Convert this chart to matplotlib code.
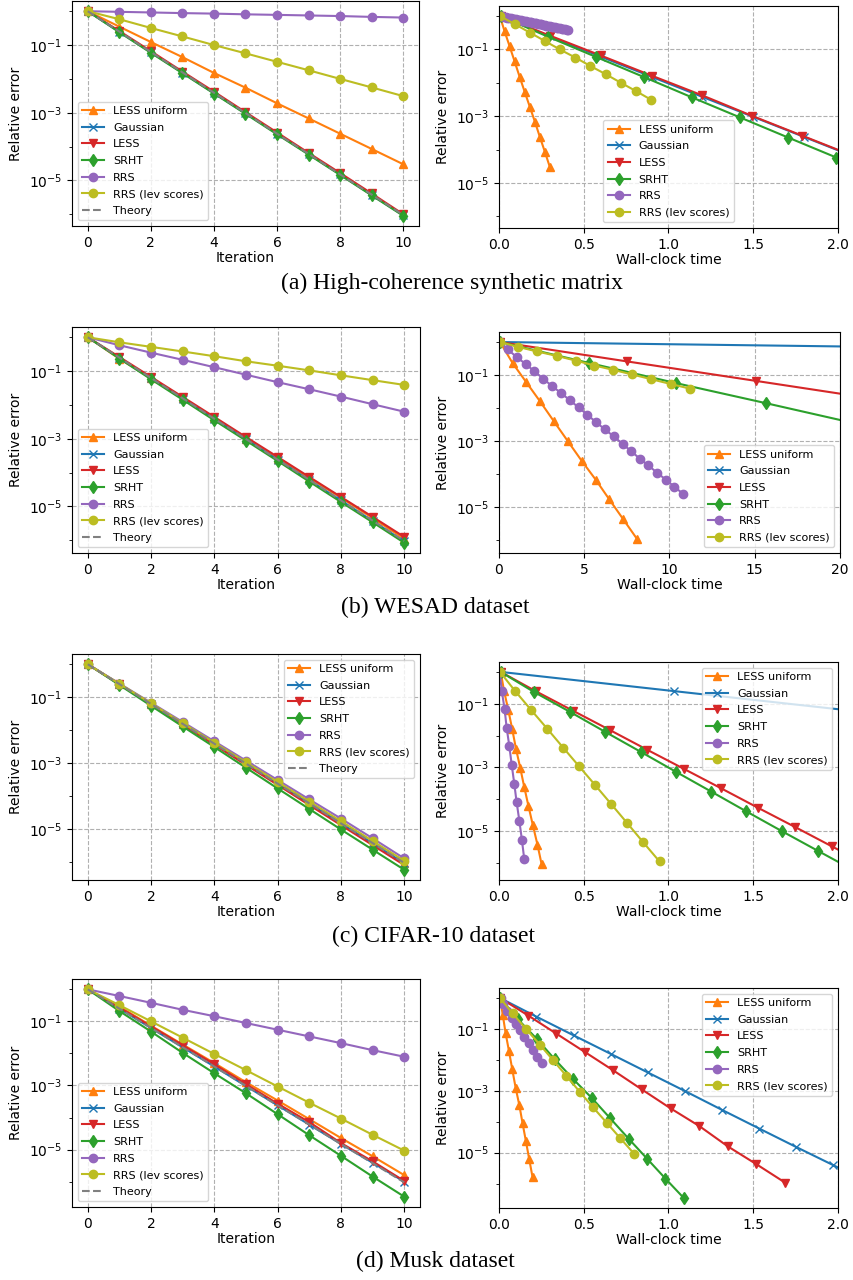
import numpy as np
import matplotlib.pyplot as plt
from matplotlib.ticker import FixedLocator, LogFormatterSciNotation, NullFormatter, MultipleLocator

methods = ['LESS uniform', 'Gaussian', 'LESS', 'SRHT', 'RRS', 'RRS (lev scores)']
colors = ['tab:orange', 'tab:blue', 'tab:red', 'tab:green', 'tab:purple', 'tab:olive']
markers = ['^', 'x', 'v', 'd', 'o', 'o']

iterations = np.arange(11)
theory = [1, 0.25, 0.0625, 0.0156, 3.9e-3, 9.8e-4, 2.4e-4, 6.1e-5, 1.5e-5, 3.8e-6, 9.5e-7]

# (a) high-coherence synthetic matrix
a_less_unif = [1, 0.35, 0.123, 0.044, 0.015, 0.0055, 0.0019, 6.8e-4, 2.4e-4, 8.5e-5, 3.0e-5]
a_gaussian = [1, 0.245, 0.061, 0.0152, 3.8e-3, 9.6e-4, 2.4e-4, 6.0e-5, 1.5e-5, 3.7e-6, 9.3e-7]
a_less = [1, 0.26, 0.066, 0.0165, 4.2e-3, 1.04e-3, 2.6e-4, 6.5e-5, 1.65e-5, 4.1e-6, 1.0e-6]
a_srht = [1, 0.24, 0.059, 0.0148, 3.7e-3, 9.3e-4, 2.3e-4, 5.8e-5, 1.45e-5, 3.6e-6, 9.0e-7]
a_rrs = [1, 0.96, 0.92, 0.88, 0.85, 0.81, 0.78, 0.75, 0.72, 0.68, 0.65]
a_rrs_lev = [1, 0.58, 0.32, 0.18, 0.10, 0.057, 0.032, 0.018, 0.010, 0.0056, 0.0031]
# RRS was run for many more iterations in the timing experiment
a_rrs_long = [1.000, 0.976, 0.952, 0.930, 0.907, 0.886, 0.865, 0.844, 0.824, 0.804,
              0.785, 0.766, 0.748, 0.730, 0.713, 0.696, 0.679, 0.663, 0.647, 0.632,
              0.617, 0.602, 0.587, 0.573, 0.560, 0.546, 0.533, 0.521, 0.508, 0.496,
              0.484, 0.473, 0.461, 0.450, 0.440, 0.429, 0.419, 0.409, 0.399, 0.390, 0.380]
a_t_less_unif = [0.005, 0.033, 0.063, 0.092, 0.122, 0.151, 0.182, 0.212, 0.241, 0.271, 0.30]
a_t_gaussian = [0.01, 0.30, 0.60, 0.90, 1.20, 1.50, 1.80, 2.10, 2.40, 2.70, 3.00]
a_t_less = [0.01, 0.30, 0.60, 0.90, 1.20, 1.49, 1.79, 2.09, 2.39, 2.69, 2.99]
a_t_srht = [0.01, 0.29, 0.575, 0.857, 1.137, 1.42, 1.706, 1.99, 2.28, 2.56, 2.85]
a_t_rrs = [0.01, 0.02, 0.03, 0.04, 0.05, 0.06, 0.07, 0.08, 0.09, 0.10,
           0.11, 0.12, 0.13, 0.14, 0.15, 0.16, 0.17, 0.18, 0.19, 0.20,
           0.21, 0.22, 0.23, 0.24, 0.25, 0.26, 0.27, 0.28, 0.29, 0.30,
           0.31, 0.32, 0.33, 0.34, 0.35, 0.36, 0.37, 0.38, 0.39, 0.40, 0.41]
a_t_rrs_lev = [0.006, 0.092, 0.182, 0.27, 0.359, 0.451, 0.539, 0.631, 0.72, 0.81, 0.898]

# (b) WESAD
b_less_unif = [1, 0.23, 0.062, 0.016, 0.004, 0.001, 2.6e-4, 6.9e-5, 1.8e-5, 4.5e-6, 1.1e-6]
b_gaussian = [1, 0.245, 0.061, 0.0152, 3.8e-3, 9.5e-4, 2.4e-4, 5.9e-5, 1.5e-5, 3.7e-6, 9.2e-7]
b_less = [1, 0.26, 0.067, 0.0172, 4.4e-3, 1.12e-3, 2.9e-4, 7.4e-5, 1.9e-5, 4.9e-6, 1.25e-6]
b_srht = [1, 0.235, 0.057, 0.0142, 3.5e-3, 8.8e-4, 2.2e-4, 5.4e-5, 1.35e-5, 3.4e-6, 8.4e-7]
b_rrs = [1, 0.58, 0.35, 0.215, 0.13, 0.078, 0.047, 0.029, 0.0176, 0.0105, 0.0063]
b_rrs_lev = [1, 0.71, 0.52, 0.38, 0.275, 0.195, 0.144, 0.105, 0.075, 0.054, 0.039]
b_rrs_long = [1, 0.60, 0.35, 0.215, 0.13, 0.078, 0.047, 0.029, 0.0176, 0.0105, 0.0063,
              0.0038, 0.0023, 1.4e-3, 8.3e-4, 5.0e-4, 3.0e-4, 1.85e-4, 1.12e-4, 6.9e-5, 4.2e-5, 2.5e-5]
b_t_less_unif = [0.06, 0.8, 1.59, 2.41, 3.22, 4.04, 4.84, 5.67, 6.45, 7.27, 8.1]
b_t_gaussian = [0.05, 92, 184, 276, 368, 460, 552, 644, 736, 828, 920]
b_t_less = [0.05, 7.5, 15.06, 22.6, 30.1, 37.6, 45.1, 52.6, 60.1, 67.6, 75.1]
b_t_srht = [0.05, 5.25, 10.4, 15.65, 20.85, 26.0, 31.2, 36.4, 41.6, 46.8, 52.0]
b_t_rrs = [0.06, 0.51, 1.04, 1.57, 2.08, 2.59, 3.10, 3.63, 4.14, 4.67, 5.18,
           5.69, 6.20, 6.73, 7.25, 7.75, 8.25, 8.76, 9.27, 9.78, 10.29, 10.82]
b_t_rrs_lev = [0.06, 1.14, 2.22, 3.4, 4.5, 5.6, 6.7, 7.8, 8.94, 10.06, 11.2]

# (c) CIFAR-10
c_less_unif = [1, 0.25, 0.063, 0.0158, 3.9e-3, 9.8e-4, 2.4e-4, 6.0e-5, 1.5e-5, 3.7e-6, 9.2e-7]
c_gaussian = [1, 0.25, 0.062, 0.0155, 3.9e-3, 9.6e-4, 2.4e-4, 6.0e-5, 1.5e-5, 3.7e-6, 9.3e-7]
c_less = [1, 0.245, 0.06, 0.0148, 3.6e-3, 8.9e-4, 2.2e-4, 5.4e-5, 1.33e-5, 3.3e-6, 8.2e-7]
c_srht = [1, 0.235, 0.055, 0.013, 3.1e-3, 7.3e-4, 1.72e-4, 4.1e-5, 9.8e-6, 2.4e-6, 5.9e-7]
c_rrs = [1, 0.26, 0.068, 0.0178, 4.6e-3, 1.2e-3, 3.1e-4, 8.0e-5, 2.1e-5, 5.3e-6, 1.3e-6]
c_rrs_lev = [1, 0.255, 0.065, 0.0165, 4.2e-3, 1.07e-3, 2.7e-4, 6.9e-5, 1.75e-5, 4.4e-6, 1.1e-6]
c_t_less_unif = [0.01, 0.03, 0.055, 0.078, 0.10, 0.125, 0.149, 0.174, 0.20, 0.227, 0.251]
c_t_gaussian = [0.01, 1.03, 2.06, 3.09, 4.12, 5.15, 6.18, 7.21, 8.24, 9.27, 10.3]
c_t_less = [0.01, 0.218, 0.437, 0.655, 0.873, 1.092, 1.31, 1.527, 1.747, 1.963, 2.18]
c_t_srht = [0.01, 0.206, 0.42, 0.627, 0.835, 1.043, 1.253, 1.46, 1.67, 1.88, 2.09]
c_t_rrs = [0.005, 0.016, 0.033, 0.045, 0.061, 0.075, 0.09, 0.104, 0.12, 0.135, 0.149]
c_t_rrs_lev = [0.006, 0.094, 0.188, 0.284, 0.378, 0.473, 0.569, 0.663, 0.757, 0.851, 0.947]

# (d) Musk
d_less_unif = [1, 0.29, 0.073, 0.019, 5.0e-3, 1.26e-3, 3.4e-4, 8.9e-5, 2.3e-5, 6.2e-6, 1.6e-6]
d_gaussian = [1, 0.25, 0.062, 0.0155, 3.9e-3, 9.6e-4, 2.4e-4, 6.0e-5, 1.5e-5, 3.9e-6, 1.0e-6]
d_less = [1, 0.27, 0.07, 0.018, 4.6e-3, 1.1e-3, 2.7e-4, 7.2e-5, 1.6e-5, 4.3e-6, 1.05e-6]
d_srht = [1, 0.21, 0.048, 0.0104, 2.4e-3, 5.7e-4, 1.27e-4, 2.8e-5, 6.4e-6, 1.44e-6, 3.4e-7]
d_rrs = [1, 0.62, 0.38, 0.23, 0.145, 0.089, 0.055, 0.034, 0.021, 0.0127, 0.0079]
d_rrs_lev = [1, 0.32, 0.10, 0.031, 0.0096, 0.003, 9.3e-4, 2.9e-4, 9.3e-5, 2.9e-5, 9.3e-6]
d_t_less_unif = [0.006, 0.022, 0.039, 0.059, 0.078, 0.098, 0.12, 0.139, 0.159, 0.178, 0.198]
d_t_gaussian = [0.006, 0.22, 0.44, 0.66, 0.878, 1.10, 1.316, 1.535, 1.755, 1.973, 2.19]
d_t_less = [0.006, 0.173, 0.339, 0.506, 0.673, 0.843, 1.012, 1.182, 1.349, 1.516, 1.69]
d_t_srht = [0.006, 0.11, 0.222, 0.329, 0.437, 0.549, 0.657, 0.765, 0.873, 0.982, 1.09]
d_t_rrs = [0.01, 0.025, 0.045, 0.075, 0.10, 0.124, 0.149, 0.175, 0.20, 0.225, 0.251]
d_t_rrs_lev = [0.006, 0.08, 0.159, 0.241, 0.32, 0.398, 0.476, 0.555, 0.635, 0.716, 0.796]

captions = ['(a) High-coherence synthetic matrix', '(b) WESAD dataset',
            '(c) CIFAR-10 dataset', '(d) Musk dataset']

W, H = 854, 1280
fig = plt.figure(figsize=(W / 100, H / 100), dpi=100)


def axes_px(left, top, right, bottom):
    return fig.add_axes([left / W, 1 - bottom / H, (right - left) / W, (bottom - top) / H])


def log_ticks(ax):
    ax.set_yscale('log')
    ax.yaxis.set_major_locator(FixedLocator(10.0 ** np.arange(-9, 3, 2)))
    ax.yaxis.set_major_formatter(LogFormatterSciNotation())
    ax.yaxis.set_minor_locator(FixedLocator(10.0 ** np.arange(-8, 3, 2)))
    ax.yaxis.set_minor_formatter(NullFormatter())
    ax.grid(True, linestyle='--')
    ax.set_ylabel('Relative error', fontsize=10)


def add_legend(ax, loc):
    ax.legend(loc=loc, fontsize=8, labelspacing=0.6)


def plot_iterations(ax, errors, loc):
    for name, err, col, mk in zip(methods, errors, colors, markers):
        ax.plot(iterations, err, marker=mk, color=col, label=name)
    ax.plot(iterations, theory, '--', color='gray', label='Theory')
    log_ticks(ax)
    ax.set_xticks([0, 2, 4, 6, 8, 10])
    ax.set_xlabel('Iteration', fontsize=10, labelpad=1)
    add_legend(ax, loc)


def plot_times(ax, times, errors, xmax, loc):
    for name, t, err, col, mk in zip(methods, times, errors, colors, markers):
        ax.plot(t, err, marker=mk, color=col, label=name)
    log_ticks(ax)
    ax.set_xlim(0, xmax)
    ax.xaxis.set_major_locator(MultipleLocator(xmax / 4))
    ax.set_xlabel('Wall-clock time', fontsize=10, labelpad=1)
    add_legend(ax, loc)


panels = [
    dict(errs=[a_less_unif, a_gaussian, a_less, a_srht, a_rrs, a_rrs_lev],
         time_errs=[a_less_unif, a_gaussian, a_less, a_srht, a_rrs_long, a_rrs_lev],
         times=[a_t_less_unif, a_t_gaussian, a_t_less, a_t_srht, a_t_rrs, a_t_rrs_lev],
         xmax=2.0, locs=('lower left', 'lower center'),
         left=(72, 1, 419, 226), right=(499, 6, 838, 228), cap=(452, 283)),
    dict(errs=[b_less_unif, b_gaussian, b_less, b_srht, b_rrs, b_rrs_lev],
         time_errs=[b_less_unif, b_gaussian, b_less, b_srht, b_rrs_long, b_rrs_lev],
         times=[b_t_less_unif, b_t_gaussian, b_t_less, b_t_srht, b_t_rrs, b_t_rrs_lev],
         xmax=20, locs=('lower left', 'lower right'),
         left=(72, 327, 420, 553), right=(499, 332, 840, 553), cap=(435, 607)),
    dict(errs=[c_less_unif, c_gaussian, c_less, c_srht, c_rrs, c_rrs_lev],
         time_errs=[c_less_unif, c_gaussian, c_less, c_srht, c_rrs, c_rrs_lev],
         times=[c_t_less_unif, c_t_gaussian, c_t_less, c_t_srht, c_t_rrs, c_t_rrs_lev],
         xmax=2.0, locs=('upper right', 'upper right'),
         left=(72, 654, 420, 880), right=(499, 662, 838, 880), cap=(434, 936)),
    dict(errs=[d_less_unif, d_gaussian, d_less, d_srht, d_rrs, d_rrs_lev],
         time_errs=[d_less_unif, d_gaussian, d_less, d_srht, d_rrs, d_rrs_lev],
         times=[d_t_less_unif, d_t_gaussian, d_t_less, d_t_srht, d_t_rrs, d_t_rrs_lev],
         xmax=2.0, locs=('lower left', 'upper right'),
         left=(72, 979, 420, 1207), right=(499, 988, 838, 1208), cap=(435, 1261)),
]

for p, cap in zip(panels, captions):
    ax_it = axes_px(*p['left'])
    plot_iterations(ax_it, p['errs'], p['locs'][0])
    ax_t = axes_px(*p['right'])
    plot_times(ax_t, p['times'], p['time_errs'], p['xmax'], p['locs'][1])
    cx, cy = p['cap']
    fig.text(cx / W, 1 - cy / H, cap, ha='center', va='center',
             family='Liberation Serif', fontsize=17)

fig.savefig('out.png', dpi=100)
